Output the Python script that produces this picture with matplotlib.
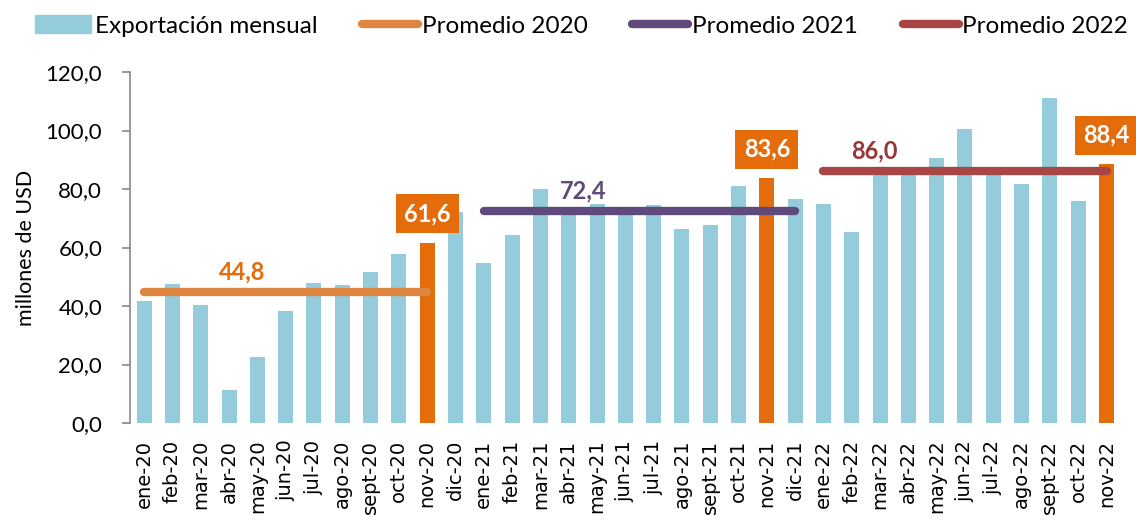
import matplotlib
matplotlib.use("Agg")
import matplotlib.pyplot as plt
from matplotlib.lines import Line2D
from matplotlib.patches import Patch
from matplotlib.ticker import FuncFormatter, MultipleLocator

months = [
    "ene-20", "feb-20", "mar-20", "abr-20", "may-20", "jun-20", "jul-20", "ago-20",
    "sept-20", "oct-20", "nov-20", "dic-20",
    "ene-21", "feb-21", "mar-21", "abr-21", "may-21", "jun-21", "jul-21", "ago-21",
    "sept-21", "oct-21", "nov-21", "dic-21",
    "ene-22", "feb-22", "mar-22", "abr-22", "may-22", "jun-22", "jul-22", "ago-22",
    "sept-22", "oct-22", "nov-22",
]
exports = [
    41.6, 47.6, 40.2, 11.2, 22.6, 38.4, 48.0, 47.1, 51.7, 57.8, 61.6, 72.3,
    54.7, 64.3, 80.0, 73.5, 74.9, 71.5, 74.6, 66.2, 67.6, 81.0, 83.6, 76.6,
    74.8, 65.4, 85.5, 85.0, 90.5, 100.5, 85.0, 81.6, 111.2, 75.9, 88.4,
]
highlight = ["nov-20", "nov-21", "nov-22"]

avg_labels = ["Promedio 2020", "Promedio 2021", "Promedio 2022"]
avg_values = [44.8, 72.4, 86.0]
avg_start = ["ene-20", "ene-21", "ene-22"]
avg_end = ["nov-20", "dic-21", "nov-22"]

BLUE = "#94CCDC"
ORANGE = "#E46C0A"
LINE_COLORS = ["#DE8540", "#604A7B", "#A84646"]
TEXT_COLORS = ["#E46C0A", "#604A7B", "#953735"]

plt.rcParams["font.family"] = ["Lato", "DejaVu Sans"]


def comma(v, pos=None):
    return f"{v:.1f}".replace(".", ",")


fig = plt.figure(figsize=(11.36, 5.2), dpi=100)
ax = fig.add_axes([0.1144, 0.1865, 0.8721, 0.675])

x = list(range(len(months)))
colors = [ORANGE if m in highlight else BLUE for m in months]
ax.bar(x, exports, width=0.53, color=colors, zorder=2)

# average lines
label_pos = [3.45, 15.5, 25.8]
for i in range(3):
    a = months.index(avg_start[i])
    b = months.index(avg_end[i])
    ax.plot([a, b], [avg_values[i]] * 2, color=LINE_COLORS[i], lw=6,
            solid_capstyle="round", zorder=3)
    ax.text(label_pos[i], avg_values[i] + 3.0, comma(avg_values[i]),
            color=TEXT_COLORS[i], fontsize=17, fontweight="bold",
            ha="center", va="bottom", zorder=4)

# boxed labels for the highlighted months
for m in highlight:
    i = months.index(m)
    ax.annotate(comma(exports[i]), (i, exports[i]), xytext=(0, 21),
                textcoords="offset points", ha="center", va="center",
                fontsize=17, fontweight="bold", color="white", zorder=5,
                bbox=dict(boxstyle="square,pad=0.35", fc=ORANGE, ec="none"))

ax.set_xlim(-0.5, len(months) - 0.5)
ax.set_ylim(0, 120)
ax.yaxis.set_major_locator(MultipleLocator(20))
ax.yaxis.set_major_formatter(FuncFormatter(comma))
ax.set_xticks(x)
ax.set_xticklabels(months, rotation=90, fontsize=14, family="DejaVu Sans")
ax.tick_params(axis="x", length=0, pad=12)
ax.tick_params(axis="y", labelsize=16, length=6, color="#888888", width=1.2, pad=14)
ax.set_ylabel("millones de USD", fontsize=15.5, labelpad=7)

for s in ["top", "right", "bottom"]:
    ax.spines[s].set_visible(False)
ax.spines["left"].set_color("#888888")
ax.spines["left"].set_linewidth(1.2)

handles = [Patch(color=BLUE)] + [
    Line2D([0], [0], color=c, lw=6, solid_capstyle="round") for c in LINE_COLORS
]
fig.legend(handles, ["Exportación mensual"] + avg_labels, loc="center",
           bbox_to_anchor=(0.512, 0.95), ncol=4, frameon=False, fontsize=17.5,
           handlelength=2.3, handletextpad=0.15, columnspacing=1.85)

fig.savefig("out.png", dpi=100)
